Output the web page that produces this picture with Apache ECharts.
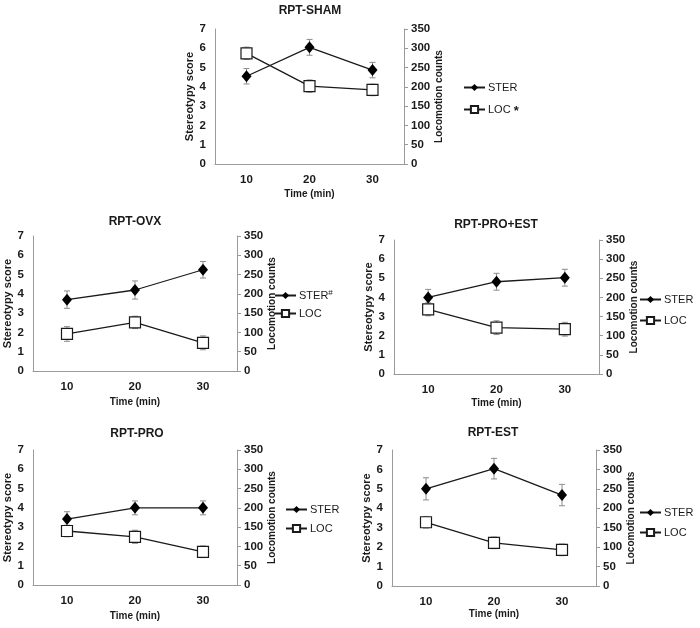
<!DOCTYPE html>
<html><head><meta charset="utf-8">
<script src="https://cdn.jsdelivr.net/npm/echarts@6/dist/echarts.min.js"></script>
<style>html,body{margin:0;padding:0;background:#fff}#c{width:700px;height:628px}</style>
</head><body><div id="c"></div>
<script>
// ---- data ----
const times = ['10', '20', '30'];
const leftTicks = [0, 1, 2, 3, 4, 5, 6, 7];
const rightTicks = [0, 50, 100, 150, 200, 250, 300, 350];

const shamSter = [4.55, 6.05, 4.87];
const shamSterErr = [0.4, 0.41, 0.4];
const shamLoc = [287, 202, 192];
const shamLocErr = [16, 16, 15];

const ovxSter = [3.7, 4.2, 5.25];
const ovxSterErr = [0.45, 0.47, 0.43];
const ovxLoc = [96, 126, 73];
const ovxLocErr = [19, 16, 18];

const proEstSter = [4.0, 4.82, 5.03];
const proEstSterErr = [0.42, 0.44, 0.44];
const proEstLoc = [169, 121, 117];
const proEstLocErr = [17, 18, 18];

const proSter = [3.42, 4.0, 4.0];
const proSterErr = [0.38, 0.36, 0.36];
const proLoc = [140, 125, 86];
const proLocErr = [15, 17, 15];

const estSter = [5.0, 6.04, 4.68];
const estSterErr = [0.57, 0.53, 0.55];
const estLoc = [164, 111, 93];
const estLocErr = [15, 15, 15];

const titles = ['RPT-SHAM', 'RPT-OVX', 'RPT-PRO+EST', 'RPT-PRO', 'RPT-EST'];
const sterLabels = ['STER', 'STER#', 'STER', 'STER', 'STER'];
const locLabels = ['LOC*', 'LOC', 'LOC', 'LOC', 'LOC'];
const xName = 'Time (min)';
const leftName = 'Stereotypy score';
const rightName = 'Locomotion counts';

const panelData = [
  {ster: shamSter, sterErr: shamSterErr, loc: shamLoc, locErr: shamLocErr},
  {ster: ovxSter, sterErr: ovxSterErr, loc: ovxLoc, locErr: ovxLocErr},
  {ster: proEstSter, sterErr: proEstSterErr, loc: proEstLoc, locErr: proEstLocErr},
  {ster: proSter, sterErr: proSterErr, loc: proLoc, locErr: proLocErr},
  {ster: estSter, sterErr: estSterErr, loc: estLoc, locErr: estLocErr}
];

// ---- layout ----
const layout = [
  {grid: {left: 215, top: 29, width: 189, height: 135}, title: [310, 5], legend: [463, 82, 11], xGap: 25},
  {grid: {left: 33, top: 236, width: 204, height: 135}, title: [135, 216], legend: [274, 289, 7], xGap: 26},
  {grid: {left: 394, top: 240, width: 205, height: 134}, title: [496, 219], legend: [639, 294, 10], xGap: 24},
  {grid: {left: 33, top: 450, width: 204, height: 135}, title: [137, 428], legend: [285, 504, 8], xGap: 26},
  {grid: {left: 392, top: 450, width: 204, height: 136}, title: [493, 427], legend: [639, 507, 9], xGap: 20}
];

const FONT = '"Liberation Sans", Arial, sans-serif';
const TXT = '#1a1a1a';
const AXC = '#9a9a9a';
const ERRC = '#8c8c8c';

function errRender(params, api) {
  const x = api.value(0), y = api.value(1), e = api.value(2);
  const t = api.coord([x, y + e]);
  const b = api.coord([x, y - e]);
  const hw = 3;
  const st = {stroke: ERRC, lineWidth: 1};
  return {type: 'group', children: [
    {type: 'line', shape: {x1: t[0], y1: t[1], x2: b[0], y2: b[1]}, style: st},
    {type: 'line', shape: {x1: t[0] - hw, y1: t[1], x2: t[0] + hw, y2: t[1]}, style: st},
    {type: 'line', shape: {x1: b[0] - hw, y1: b[1], x2: b[0] + hw, y2: b[1]}, style: st}
  ]};
}

const option = {
  animation: false,
  backgroundColor: '#fff',
  textStyle: {fontFamily: FONT},
  title: [], grid: [], xAxis: [], yAxis: [], legend: [], series: []
};

const labelMap = {};

layout.forEach((L, i) => {
  const d = panelData[i];
  option.title.push({
    text: titles[i], left: L.title[0], top: L.title[1], textAlign: 'center', padding: 0,
    textStyle: {fontFamily: FONT, fontSize: 12, fontWeight: 'bold', color: TXT}
  });
  option.grid.push(Object.assign({containLabel: false}, L.grid));
  option.xAxis.push({
    type: 'category', gridIndex: i, data: times, boundaryGap: true,
    name: xName, nameLocation: 'middle', nameGap: L.xGap,
    nameTextStyle: {fontFamily: FONT, fontSize: 10, fontWeight: 'bold', color: TXT},
    axisLine: {lineStyle: {color: AXC, width: 1}},
    axisTick: {show: false},
    axisLabel: {margin: 10, fontFamily: FONT, fontSize: 11.5, fontWeight: 'bold', color: TXT},
    splitLine: {show: false}
  });
  option.yAxis.push({
    type: 'value', gridIndex: i, position: 'left', min: 0, max: 7, interval: 1,
    name: leftName, nameLocation: 'middle', nameGap: 15, nameRotate: 90,
    nameTextStyle: {fontFamily: FONT, fontSize: 11, fontWeight: 'bold', color: TXT},
    axisLine: {show: true, lineStyle: {color: AXC, width: 1}},
    axisTick: {show: false},
    axisLabel: {margin: 9, fontFamily: FONT, fontSize: 11.5, fontWeight: 'bold', color: TXT},
    splitLine: {show: false}
  });
  option.yAxis.push({
    type: 'value', gridIndex: i, position: 'right', min: 0, max: 350, interval: 50,
    name: rightName, nameLocation: 'middle', nameGap: 29, nameRotate: 90,
    nameTextStyle: {fontFamily: FONT, fontSize: 10, fontWeight: 'bold', color: TXT},
    axisLine: {show: true, lineStyle: {color: AXC, width: 1}},
    axisTick: {show: true, inside: false, length: 4, lineStyle: {color: AXC}},
    axisLabel: {margin: 7, fontFamily: FONT, fontSize: 11.5, fontWeight: 'bold', color: TXT},
    splitLine: {show: false}
  });
  const sName = 'p' + i + '-STER', lName = 'p' + i + '-LOC';
  labelMap[sName] = sterLabels[i];
  labelMap[lName] = locLabels[i];
  option.legend.push({
    orient: 'vertical', left: L.legend[0], top: L.legend[1], itemGap: L.legend[2],
    itemWidth: 21, itemHeight: 9, padding: 0,
    data: [sName, lName],
    formatter: function (n) {
      const t = labelMap[n];
      if (t.endsWith('#')) return t.slice(0, -1) + '{sup|#}';
      if (t.endsWith('*')) return t.slice(0, -1) + ' {star|*}';
      return t;
    },
    textStyle: {fontFamily: FONT, fontSize: 11, color: TXT, padding: [0, 0, 0, -2],
      rich: {
        sup: {fontSize: 8, fontFamily: FONT, color: TXT, padding: [0, 0, 5, 0]},
        star: {fontSize: 13, fontWeight: 'bold', fontFamily: FONT, color: TXT, padding: [4, 0, 0, 0]}
      }}
  });
  // error bars
  option.series.push({
    type: 'custom', xAxisIndex: i, yAxisIndex: 2 * i, renderItem: errRender, z: 1,
    encode: {x: 0, y: 1}, silent: true,
    data: d.ster.map((v, k) => [k, v, d.sterErr[k]])
  });
  option.series.push({
    type: 'custom', xAxisIndex: i, yAxisIndex: 2 * i + 1, renderItem: errRender, z: 1,
    encode: {x: 0, y: 1}, silent: true,
    data: d.loc.map((v, k) => [k, v, d.locErr[k]])
  });
  option.series.push({
    name: sName, type: 'line', xAxisIndex: i, yAxisIndex: 2 * i, data: d.ster, z: 3,
    symbol: 'diamond', symbolSize: [10, 12],
    itemStyle: {color: '#000'}, lineStyle: {color: '#1a1a1a', width: 1.3}
  });
  option.series.push({
    name: lName, type: 'line', xAxisIndex: i, yAxisIndex: 2 * i + 1, data: d.loc, z: 3,
    symbol: 'rect', symbolSize: 11,
    itemStyle: {color: '#fff', borderColor: '#1a1a1a', borderWidth: 1.2}, lineStyle: {color: '#1a1a1a', width: 1.3}
  });
});

const chart = echarts.init(document.getElementById('c'), null, {renderer: 'canvas'});
chart.setOption(option);
</script>
</body></html>
